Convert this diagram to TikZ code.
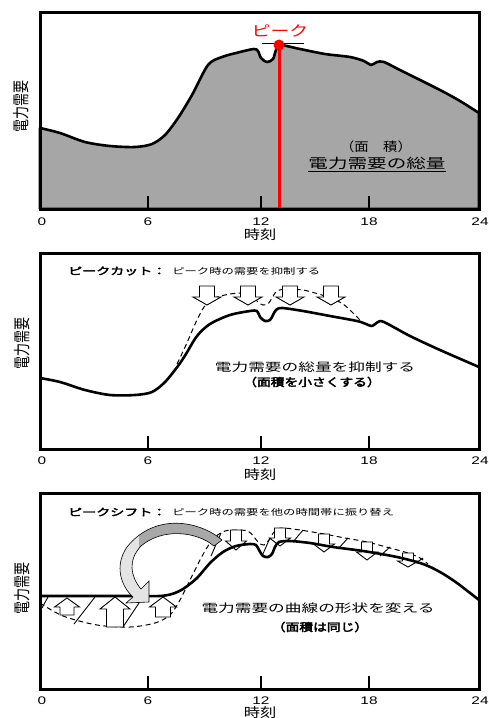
\documentclass[tikz,border=0pt]{standalone}
\usepackage{fontspec}
\setmainfont{Noto Sans CJK JP}
\newfontfamily\jpbold[FakeBold=3]{Noto Sans CJK JP}
\newfontfamily\numfont{Liberation Sans}
\definecolor{areagray}{RGB}{166,166,166}
\definecolor{shiftdark}{RGB}{168,168,168}
\definecolor{shiftlight}{RGB}{228,228,228}
\newcommand{\hollowarrow}[6]{%
  \draw[arrowbox] (#1-#5,#2) -- (#1+#5,#2) -- (#1+#5,#3) -- (#1+#6,#3) -- (#1,#4)
    -- (#1-#6,#3) -- (#1-#5,#3) -- cycle;}
\def\shiftpath{(222,540) .. controls (200,521) and (155,512) .. (127,547)
  .. controls (114,566) and (121,586) .. (133,597) -- (126,603) -- (149,602) -- (149,581)
  -- (141,589) .. controls (130,576) and (128,560) .. (141,546)
  .. controls (162,528) and (196,531) .. (214,546) -- cycle}

\begin{document}
\begin{tikzpicture}[x=1pt,y=-1pt,
  frame/.style={line width=3pt},
  demand/.style={line width=2.6pt,line join=round},
  shifted/.style={dash pattern=on 5pt off 3.5pt,line width=1pt},
  hatch/.style={line width=0.9pt},
  arrowbox/.style={fill=white,draw=black,line width=0.9pt},
  tickmark/.style={line width=1.5pt},
  ticklab/.style={font=\numfont\fontsize{11}{12}\selectfont,xscale=1.4,inner sep=0pt},
  axislab/.style={font=\fontsize{13}{14}\selectfont,xscale=1.25,inner sep=0pt},
  ylab/.style={font=\fontsize{13}{14}\selectfont,xscale=1.3,rotate=90,inner sep=0pt},
  title/.style={font=\jpbold\fontsize{10}{12}\selectfont,xscale=1.4,anchor=west,inner sep=0pt},
  note/.style={font=\fontsize{8.5}{10}\selectfont,xscale=1.45,anchor=west,inner sep=0pt},
  big/.style={font=\fontsize{11.5}{13}\selectfont,xscale=1.45,inner sep=0pt},
  bigbold/.style={font=\jpbold\fontsize{11}{13}\selectfont,xscale=1.25,inner sep=0pt}]
\useasboundingbox (0,0) rectangle (488,718);

\filldraw[fill=areagray,demand] plot[smooth,tension=0.5] coordinates {
  (40,128) (60,133) (85,142) (110,146) (135,147) (152,144) (165,135) (178,118) (192,95)
  (208,65) (222,57) (240,52) (254,49) (258,51) (261,58) (267,62) (273,59) (276,50) (280,45)
  (300,49) (325,54) (350,57) (364,61) (371,65) (377,62) (384,62) (400,70) (440,90)
  (460,101) (479,113)} -- (479,209) -- (40,209) -- cycle;
\draw[line width=1pt] (262,43) -- (304,43);
\node[circle,fill=red,minimum size=11pt,inner sep=0pt] (pk) at (279,45) {};
\coordinate (pkfoot) at (279,209);
\draw[red,line width=3pt] (pk.center) -- (pkfoot);
\node[red,font=\fontsize{14.5}{15}\selectfont,xscale=1.3,inner sep=0pt] (pklab) at (280,31) {ピーク};
\node[font=\fontsize{12.5}{13}\selectfont,xscale=1.15,inner sep=0pt] (area) at (376,147) {（面　積）};
\node[font=\fontsize{13.5}{14}\selectfont,xscale=1.45,inner sep=0pt] (total) at (377,163) {電力需要の総量};
\draw[line width=1pt] (308,171) -- (446,171);
\draw[frame] (40,12) rectangle (479,209);
\foreach \tx in {148,261,369} \draw[tickmark] (\tx,209) -- (\tx,196);
\foreach \tx/\hr in {42/0,148/6,261/12,369/18,480/24} \node[ticklab] (a\hr) at (\tx,222) {\hr};
\node[axislab] (atime) at (260,235) {時刻};
\node[ylab] (ademand) at (21,106) {電力需要};

\draw[frame] (40,253) rectangle (479,449);
\node[title] (cuthead) at (68,271) {ピークカット：};
\node[note] (cutnote) at (172,271) {ピーク時の需要を抑制する};
\draw[shifted] plot[smooth,tension=0.5] coordinates {
  (177,364) (186,345) (196,322) (204,307) (212,299) (225,295) (240,293) (252,296) (258,302)
  (263,305) (268,304) (272,298) (277,291) (287,289) (303,290) (315,293) (331,298) (343,304)
  (352,312) (361,321)};
\hollowarrow{207}{286}{297}{305}{7.5}{14}
\hollowarrow{248}{286}{297}{305}{7.5}{14}
\hollowarrow{290}{286}{297}{305}{7.5}{14}
\hollowarrow{331}{286}{297}{305}{7.5}{14}
\draw[demand] plot[smooth,tension=0.5] coordinates {
  (40,378) (60,382) (85,390) (110,395) (135,395) (152,392) (165,382) (178,366) (186,354)
  (197,336) (210,324) (230,315) (250,311) (257,311) (260,317) (265,321) (270,320) (273,315)
  (276,310) (282,308) (303,311) (330,316) (357,321) (366,324) (372,326) (378,322) (384,322)
  (410,336) (440,350) (479,367)};
\node[big] (cutmain) at (315,367) {電力需要の総量を抑制する};
\node[bigbold] (cutsub) at (312,382) {（面積を小さくする）};
\foreach \tx in {148,261,369} \draw[tickmark] (\tx,449) -- (\tx,436);
\foreach \tx/\hr in {42/0,148/6,261/12,369/18,480/24} \node[ticklab] (b\hr) at (\tx,461) {\hr};
\node[axislab] (btime) at (260,475) {時刻};
\node[ylab] (bdemand) at (22,343) {電力需要};

\draw[frame] (40,493) rectangle (479,689);
\node[title] (shifthead) at (68,512) {ピークシフト：};
\node[note] (shiftnote) at (172,512) {ピーク時の需要を他の時間帯に振り替え};
\draw[shifted] plot[smooth,tension=0.5] coordinates {
  (40,603) (63,616) (97,625) (130,627) (155,623) (170,615) (180,600) (190,580) (200,560)
  (208,546) (215,537) (225,531) (236,530) (248,531) (254,537) (259,543) (264,545) (269,540)
  (274,532) (281,528) (300,530) (324,534) (345,538) (367,542) (390,548) (408,553) (420,558)
  (428,564)};
\draw[hatch] (42,608) -- (48,597);
\draw[hatch] (74,624) -- (95,597);
\draw[hatch] (123,627) -- (143,597);
\draw[hatch] (211,556) -- (221,533);
\draw[hatch] (262,556) -- (270,538);
\draw[hatch] (293,542) -- (303,530);
\draw[hatch] (338,549) -- (348,538);
\draw[hatch] (380,556) -- (390,547);
\draw[hatch] (416,563) -- (423,558);
\hollowarrow{67}{615}{607}{598}{7}{12.5}
\hollowarrow{115}{627}{609}{597}{8.5}{15}
\hollowarrow{163}{617}{607}{597}{7.5}{13.5}
\hollowarrow{236}{530}{541}{550}{5.5}{10.5}
\hollowarrow{280}{528}{538}{546}{5.5}{10.5}
\hollowarrow{324}{534}{544}{552}{5.5}{10.5}
\hollowarrow{367}{542}{552}{560}{5.5}{10.5}
\hollowarrow{408}{553}{561}{567}{5.5}{10.5}
\draw[demand] plot[smooth,tension=0.5] coordinates {
  (40,596) (100,596) (140,596) (160,596) (172,594) (183,589) (197,578) (210,563) (223,552)
  (236,546) (250,544) (256,545) (259,550) (263,556) (268,557) (272,554) (275,547) (279,542)
  (290,541) (310,543) (333,547) (363,551) (397,557) (423,564) (440,572) (457,583) (479,600)};
\fill[shiftlight] \shiftpath;
\begin{scope}
  \clip (139,505) rectangle (230,549);
  \fill[shiftdark] \shiftpath;
\end{scope}
\draw[line width=0.6pt] \shiftpath;
\node[big] (shiftmain) at (318,608) {電力需要の曲線の形状を変える};
\node[bigbold] (shiftsub) at (320,627) {（面積は同じ）};
\foreach \tx in {148,261,369} \draw[tickmark] (\tx,689) -- (\tx,676);
\foreach \tx/\hr in {42/0,148/6,261/12,369/18,480/24} \node[ticklab] (c\hr) at (\tx,701) {\hr};
\node[axislab] (ctime) at (260,713) {時刻};
\node[ylab] (cdemand) at (22,588) {電力需要};
\end{tikzpicture}
\end{document}
